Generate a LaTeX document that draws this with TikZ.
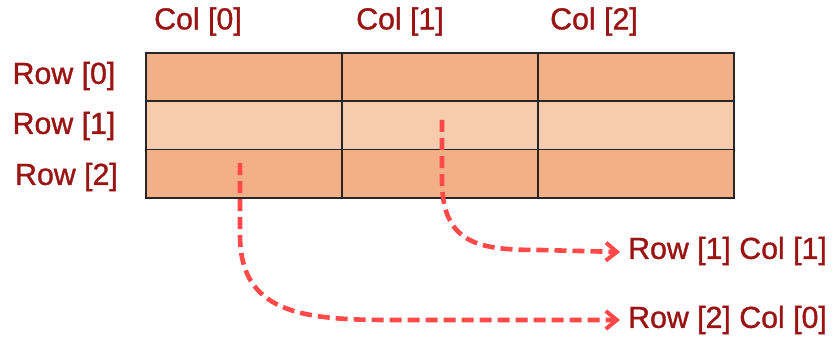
\documentclass[tikz,border=0pt]{standalone}
\usepackage{fontspec}
\setmainfont{Liberation Sans}
\newfontfamily\lblfont{Liberation Sans}[BoldFont=Liberation Sans,BoldFeatures={FakeBold=1.2}]
\usetikzlibrary{arrows.meta}
\definecolor{darkcell}{HTML}{F3AF86}
\definecolor{lightcell}{HTML}{F7CBAD}
\definecolor{labelred}{HTML}{9A1414}
\definecolor{arrowred}{HTML}{FF4848}
\begin{document}
\begin{tikzpicture}[x=1pt,y=-1pt,
  cell/.style={draw=black!85,line width=1.8pt,minimum width=196pt,minimum height=48.3pt,inner sep=0pt,anchor=north west},
  lbl/.style={text=labelred,font=\lblfont\bfseries\fontsize{30.3}{32}\selectfont,inner sep=0pt},
  conn/.style={draw=arrowred,line width=4.6pt,dash pattern=on 12pt off 6pt,-{Straight Barb[length=11pt,width=18pt,line width=4pt]}}]
\useasboundingbox (0,0) rectangle (835,342);
% cells
\node[cell,fill=darkcell]  (c00) at (145,52) {};
\node[cell,fill=darkcell]  (c01) at (341,52) {};
\node[cell,fill=darkcell]  (c02) at (537,52) {};
\node[cell,fill=lightcell] (c10) at (145,100.3) {};
\node[cell,fill=lightcell] (c11) at (341,100.3) {};
\node[cell,fill=lightcell] (c12) at (537,100.3) {};
\node[cell,fill=darkcell]  (c20) at (145,148.6) {};
\node[cell,fill=darkcell]  (c21) at (341,148.6) {};
\node[cell,fill=darkcell]  (c22) at (537,148.6) {};
% column labels
\node[lbl] (col0) at (198,21.5) {Col [0]};
\node[lbl] (col1) at (400,21.5) {Col [1]};
\node[lbl] (col2) at (594,21.5) {Col [2]};
% row labels
\node[lbl] (row0) at (64,76) {Row [0]};
\node[lbl] (row1) at (64,126) {Row [1]};
\node[lbl] (row2) at (66.5,177) {Row [2]};
% result labels
\node[lbl,anchor=west] (res11) at (628,251) {Row [1] Col [1]};
\node[lbl,anchor=west] (res20) at (628,320) {Row [2] Col [0]};
% start points
\coordinate (s11) at (442,120);
\coordinate (s20) at (240,163);
% connectors
\draw[conn] (s11) -- (442,180) .. controls (442,245) and (480,250) .. (540,250) -- ([xshift=-8pt,yshift=-1pt]res11.west);
\draw[conn] (s20) -- (240,235) .. controls (240,312) and (300,320) .. (390,320) -- ([xshift=-8pt]res20.west);
\end{tikzpicture}
\end{document}
